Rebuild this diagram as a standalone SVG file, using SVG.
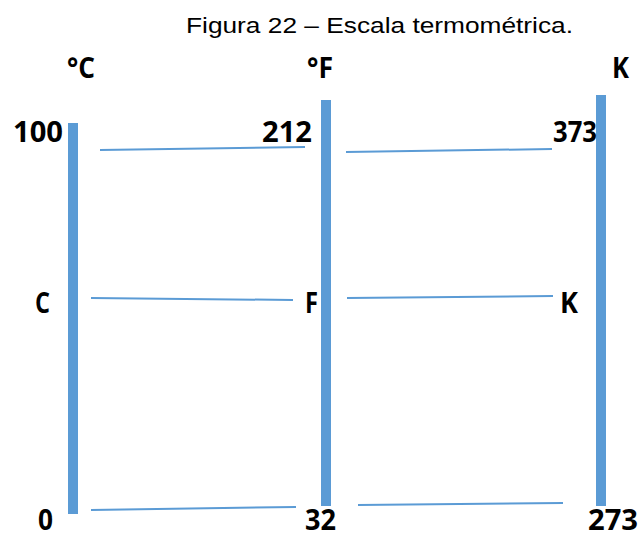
<svg xmlns="http://www.w3.org/2000/svg" width="640" height="537" viewBox="0 0 640 537">
<style>
.title{font-family:"Liberation Sans",Arial,sans-serif;font-size:22px;fill:#000}
.lbl{font-family:"Open Sans","Liberation Sans",sans-serif;font-weight:bold;font-size:28px;fill:#000}
.bar{fill:#5B9BD5}
.ln{stroke:#5B9BD5;stroke-width:2;fill:none}
</style>
<rect width="640" height="537" fill="#fff"/>
<text class="title" x="186" y="33" textLength="387" lengthAdjust="spacingAndGlyphs">Figura 22 – Escala termométrica.</text>
<g id="scale-c">
<rect class="bar" x="68" y="123" width="10" height="391"/>
<text class="lbl" x="67" y="78" textLength="28" lengthAdjust="spacingAndGlyphs">°C</text>
<text class="lbl" x="13" y="142" textLength="50" lengthAdjust="spacingAndGlyphs">100</text>
<text class="lbl" x="35" y="313" textLength="15" lengthAdjust="spacingAndGlyphs">C</text>
<text class="lbl" x="38" y="530" textLength="15" lengthAdjust="spacingAndGlyphs">0</text>
</g>
<g id="scale-f">
<rect class="bar" x="321" y="100" width="10" height="406"/>
<text class="lbl" x="307" y="78" textLength="26" lengthAdjust="spacingAndGlyphs">°F</text>
<text class="lbl" x="262" y="142" textLength="50" lengthAdjust="spacingAndGlyphs">212</text>
<text class="lbl" x="305" y="313" textLength="13" lengthAdjust="spacingAndGlyphs">F</text>
<text class="lbl" x="305" y="530" textLength="31" lengthAdjust="spacingAndGlyphs">32</text>
</g>
<g id="scale-k">
<rect class="bar" x="596" y="95" width="10" height="411"/>
<text class="lbl" x="612" y="78" textLength="17" lengthAdjust="spacingAndGlyphs">K</text>
<text class="lbl" x="553" y="142" textLength="44" lengthAdjust="spacingAndGlyphs">373</text>
<text class="lbl" x="560" y="313" textLength="18" lengthAdjust="spacingAndGlyphs">K</text>
<text class="lbl" x="588" y="530" textLength="50" lengthAdjust="spacingAndGlyphs">273</text>
</g>
<g id="connectors">
<line class="ln" x1="100" y1="150" x2="305" y2="147"/>
<line class="ln" x1="346" y1="152" x2="552" y2="149"/>
<line class="ln" x1="91" y1="298" x2="293" y2="300"/>
<line class="ln" x1="347" y1="298" x2="553" y2="296"/>
<line class="ln" x1="91" y1="510" x2="296" y2="507"/>
<line class="ln" x1="358" y1="505" x2="563" y2="503"/>
</g>
</svg>
